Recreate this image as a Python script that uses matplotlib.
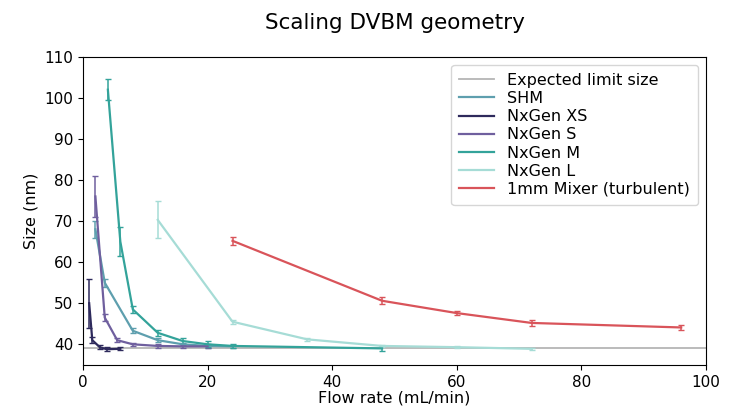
import matplotlib.pyplot as plt

# --------------------------------------------------------------
# Data
# --------------------------------------------------------------

limit_size = 39.0

shm_x = [2, 3.5, 8, 12, 16, 20, 24]
shm_y = [68.0, 55.0, 43.3, 41.0, 40.0, 39.6, 39.5]
shm_err = [2.0, 1.0, 0.6, 0.5, 0.4, 0.4, 0.3]

xs_x = [1, 1.5, 2.7, 3.8, 6]
xs_y = [50.0, 41.0, 39.3, 38.8, 38.9]
xs_err = [6.0, 0.8, 0.5, 0.5, 0.4]

s_x = [2, 3.5, 5.5, 8, 12, 16, 20]
s_y = [76.0, 46.5, 41.0, 40.0, 39.6, 39.5, 39.5]
s_err = [5.0, 0.8, 0.5, 0.4, 0.4, 0.3, 0.3]

m_x = [4, 6, 8, 12, 16, 20, 24, 48]
m_y = [102.0, 65.0, 48.5, 42.8, 40.8, 40.0, 39.6, 39.0]
m_err = [2.5, 3.5, 0.8, 0.8, 0.8, 0.7, 0.4, 0.6]

l_x = [12, 24, 36, 48, 60, 72]
l_y = [70.3, 45.5, 41.2, 39.6, 39.3, 38.9]
l_err = [4.5, 0.5, 0.4, 0.3, 0.3, 0.3]

mix_x = [24, 48, 60, 72, 96]
mix_y = [65.2, 50.6, 47.6, 45.2, 44.1]
mix_err = [1.0, 0.8, 0.5, 0.7, 0.5]

# --------------------------------------------------------------
# Plot
# --------------------------------------------------------------

fig = plt.figure(figsize=(7.34, 4.09), dpi=100)
ax = fig.add_axes([0.113, 0.108, 0.849, 0.753])

limit_line, = ax.plot([0, 100], [limit_size, limit_size], color="#b5b5b5",
                      lw=1.3)

series = [
    (shm_x, shm_y, shm_err, "#5e9fae", "SHM"),
    (xs_x, xs_y, xs_err, "#2e2a5c", "NxGen XS"),
    (s_x, s_y, s_err, "#6f5f9e", "NxGen S"),
    (m_x, m_y, m_err, "#33a39a", "NxGen M"),
    (l_x, l_y, l_err, "#a6dcd6", "NxGen L"),
    (mix_x, mix_y, mix_err, "#d9545a", "1mm Mixer (turbulent)"),
]
handles = [limit_line]
labels = ["Expected limit size"]
for x, y, err, col, lab in series:
    eb = ax.errorbar(x, y, yerr=err, color=col, lw=1.6, capsize=2,
                     elinewidth=1.1)
    handles.append(eb[0])
    labels.append(lab)

ax.set_xlim(0, 100)
ax.set_ylim(35, 110)
ax.set_yticks(range(40, 111, 10))
ax.tick_params(labelsize=11)
ax.set_xlabel("Flow rate (mL/min)", fontsize=11.5, labelpad=1)
ax.set_ylabel("Size (nm)", fontsize=11.5)
ax.set_title("Scaling DVBM geometry", fontsize=15.5, pad=20)

ax.legend(handles, labels, loc="upper right",
          fontsize=11.5, handlelength=2.2, labelspacing=0.2, borderpad=0.5)

fig.savefig("out.png", dpi=100)
